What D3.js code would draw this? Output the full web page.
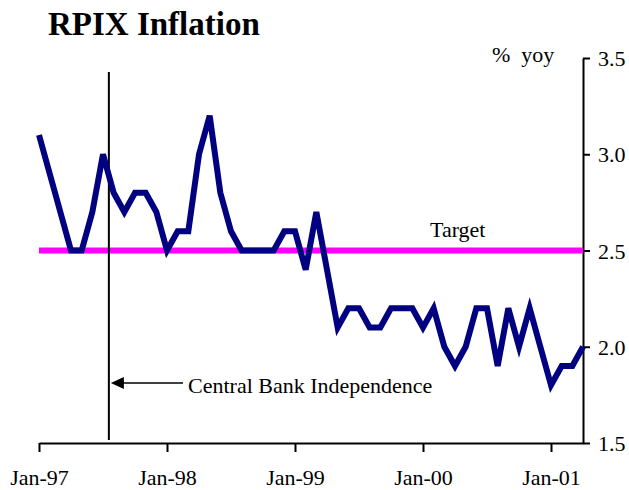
<!DOCTYPE html>
<html>
<head>
<meta charset="utf-8">
<script src="https://cdn.jsdelivr.net/npm/d3@7"></script>
<style>
    body { margin: 0; background: #fff; }
    text { font-family: "Liberation Serif", "Times New Roman", serif; }
</style>
</head>
<body>
<div id="chart"></div>
<script>
// RPIX, % yoy, monthly Jan-97 .. Apr-01
const months = d3.timeMonth.range(new Date(1997, 0, 1), new Date(2001, 4, 1));
const rpix = [
    3.1, 2.9, 2.7, 2.5, 2.5, 2.7, 3.0, 2.8, 2.7, 2.8, 2.8, 2.7,
    2.5, 2.6, 2.6, 3.0, 3.2, 2.8, 2.6, 2.5, 2.5, 2.5, 2.5, 2.6,
    2.6, 2.4, 2.7, 2.4, 2.1, 2.2, 2.2, 2.1, 2.1, 2.2, 2.2, 2.2,
    2.1, 2.2, 2.0, 1.9, 2.0, 2.2, 2.2, 1.9, 2.2, 2.0, 2.2, 2.0,
    1.8, 1.9, 1.9, 2.0
];
const target = 2.5;
const independenceMonth = 6.55; // months after Jan-97
const xTickMonths = [0, 12, 24, 36, 48];
const xTickLabels = ["Jan-97", "Jan-98", "Jan-99", "Jan-00", "Jan-01"];
const yTicks = [1.5, 2.0, 2.5, 3.0, 3.5];

const width = 629, height = 490;
const margin = { top: 58, right: 46, bottom: 47, left: 39 };
const innerW = width - margin.left - margin.right;
const innerH = height - margin.top - margin.bottom;
const fontSize = "22px";

const svg = d3.select("#chart")
    .append("svg")
    .attr("width", width)
    .attr("height", height);

const g = svg.append("g")
    .attr("transform", `translate(${margin.left},${margin.top})`);

const x = d3.scaleLinear()
    .domain([0, months.length - 1])
    .range([0, innerW]);

const y = d3.scaleLinear()
    .domain([1.5, 3.5])
    .range([innerH, 0]);

// x axis
const xAxis = g.append("g")
    .attr("transform", `translate(0,${innerH})`)
    .call(d3.axisBottom(x)
        .tickValues(xTickMonths)
        .tickFormat((d, i) => xTickLabels[i])
        .tickSize(9)
        .tickSizeOuter(0)
        .tickPadding(17));

// y axis on the right
const yAxis = g.append("g")
    .attr("transform", `translate(${innerW},0)`)
    .call(d3.axisRight(y)
        .tickValues(yTicks)
        .tickFormat(d3.format(".1f"))
        .tickSize(7)
        .tickSizeOuter(0)
        .tickPadding(8));

[xAxis, yAxis].forEach(a => {
    a.select(".domain").attr("stroke", "#000").attr("stroke-width", 2);
    a.selectAll(".tick line").attr("stroke", "#000").attr("stroke-width", 2);
    a.selectAll(".tick text")
        .attr("fill", "#000")
        .style("font-family", "'Liberation Serif', serif")
        .style("font-size", fontSize);
});
yAxis.selectAll(".tick text").attr("dy", "0.35em");

// target line
g.append("line")
    .attr("x1", x(0))
    .attr("x2", x(months.length - 1))
    .attr("y1", y(target))
    .attr("y2", y(target))
    .attr("stroke", "#ff00ff")
    .attr("stroke-width", 6);

g.append("text")
    .attr("x", 430 - margin.left)
    .attr("y", y(target) - 14)
    .style("font-size", fontSize)
    .text("Target");

// independence marker
g.append("line")
    .attr("x1", x(independenceMonth))
    .attr("x2", x(independenceMonth))
    .attr("y1", 72 - margin.top)
    .attr("y2", innerH - 3)
    .attr("stroke", "#000")
    .attr("stroke-width", 2);

// RPIX line
const line = d3.line()
    .x((d, i) => x(i))
    .y(d => y(d));

g.append("path")
    .datum(rpix)
    .attr("fill", "none")
    .attr("stroke", "#000080")
    .attr("stroke-width", 6)
    .attr("stroke-linejoin", "miter")
    .attr("d", line);

// annotation arrow
const arrowY = 383 - margin.top;
const arrowTip = x(independenceMonth) + 2;
g.append("line")
    .attr("x1", arrowTip + 10)
    .attr("x2", 183 - margin.left)
    .attr("y1", arrowY)
    .attr("y2", arrowY)
    .attr("stroke", "#000")
    .attr("stroke-width", 1.5);

g.append("path")
    .attr("d", `M${arrowTip},${arrowY} L${arrowTip + 13},${arrowY - 6} L${arrowTip + 13},${arrowY + 6} Z`)
    .attr("fill", "#000");

g.append("text")
    .attr("x", 188 - margin.left)
    .attr("y", arrowY + 10)
    .style("font-size", fontSize)
    .text("Central Bank Independence");

// titles
svg.append("text")
    .attr("x", 48)
    .attr("y", 35)
    .style("font-size", "33px")
    .style("font-weight", "bold")
    .text("RPIX Inflation");

svg.append("text")
    .attr("x", 492)
    .attr("y", 62)
    .style("font-size", fontSize)
    .style("white-space", "pre")
    .text("%  yoy");
</script>
</body>
</html>
